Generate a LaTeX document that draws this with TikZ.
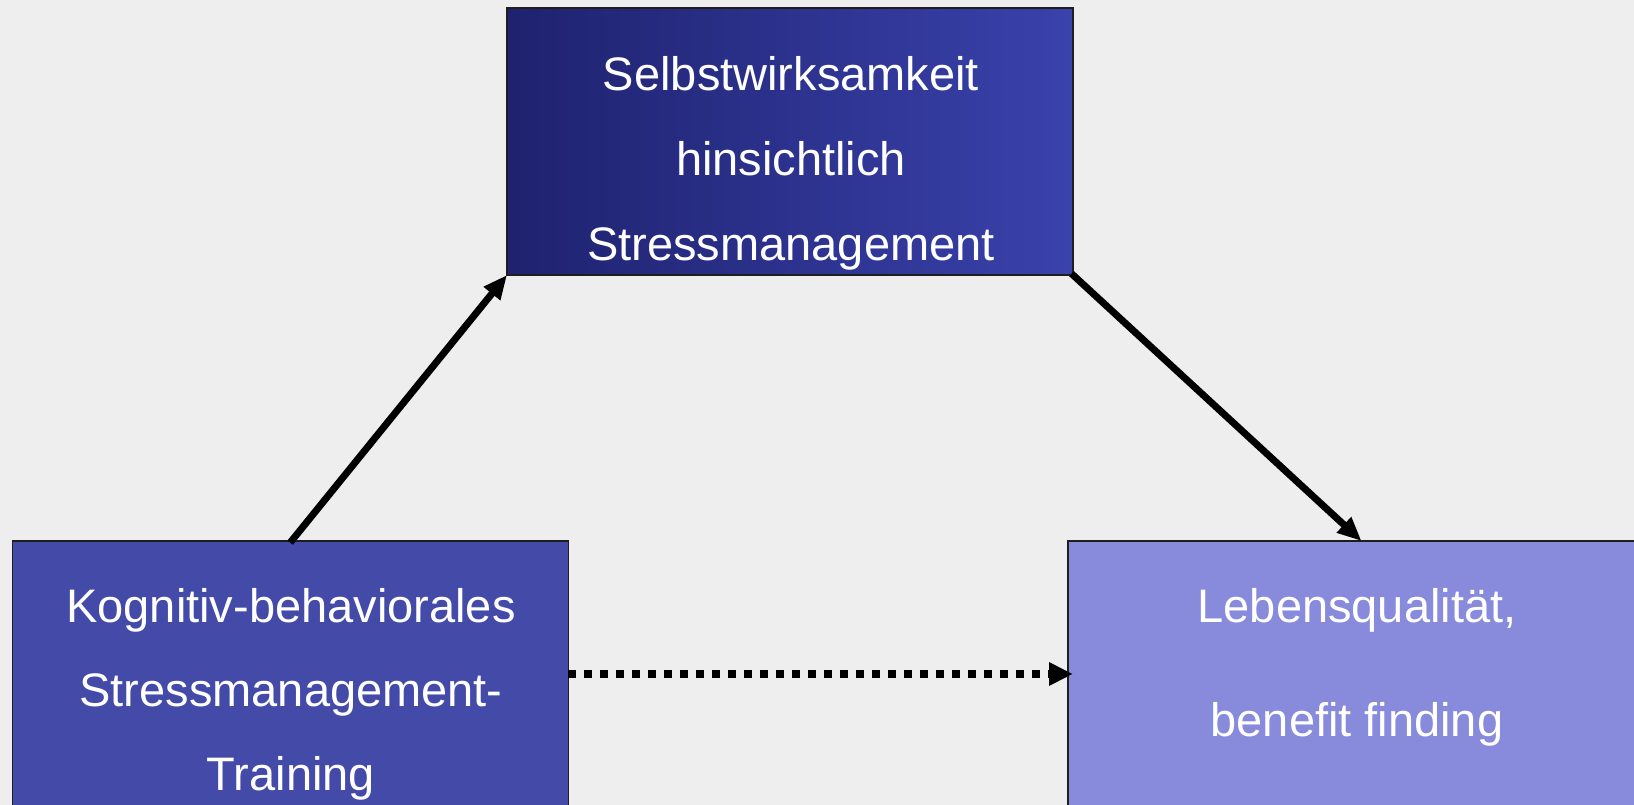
\documentclass[tikz,border=0pt]{standalone}
\usepackage{fontspec}
\setmainfont{Liberation Sans}
\usetikzlibrary{arrows.meta}
\definecolor{bg}{RGB}{238,238,238}
\definecolor{topL}{RGB}{30,34,110}
\definecolor{topR}{RGB}{58,66,172}
\definecolor{leftC}{RGB}{67,74,168}
\definecolor{rightC}{RGB}{136,139,219}
\definecolor{edge}{RGB}{30,30,30}
\tikzset{
  box/.style={draw=edge, line width=1.3bp, inner sep=0pt, outer sep=0pt, anchor=north west},
  txt/.style={text=white, font=\fontsize{47bp}{56bp}\selectfont, anchor=base, inner sep=0pt},
  conn/.style={line width=7bp, -{Triangle[length=24bp,width=20bp]}},
  dotconn/.style={line width=7.5bp, dash pattern=on 7.5bp off 8.5bp, -{Triangle[length=24bp,width=22bp]}}
}
\begin{document}
\begin{tikzpicture}[x=1bp,y=-1bp]
\fill[bg] (0,0) rectangle (1634,805);
\useasboundingbox (0,0) rectangle (1634,805);
% boxes
\node[box, left color=topL, right color=topR, minimum width=566bp, minimum height=267bp] (top) at (507,8) {};
\node[box, fill=leftC, minimum width=556bp, minimum height=280bp] (lft) at (12.5,541) {};
\node[box, fill=rightC, minimum width=580bp, minimum height=280bp] (rgt) at (1068,541) {};
% texts
\node[txt] (t1) at (791,90.7) {Selbstwirksamkeit};
\node[txt] (t2) at (791,175.5) {hinsichtlich};
\node[txt] (t3) at (791,260.7) {Stressmanagement};
\node[txt] (l1) at (291,622.7) {Kognitiv-behaviorales};
\node[txt] (l2) at (291,706.7) {Stressmanagement-};
\node[txt] (l3) at (291,790.7) {Training};
\node[txt] (r1) at (1357,622.7) {Lebensqualität,};
\node[txt] (r2) at (1357,736) {benefit finding};
% connectors
\coordinate (a1s) at (291.5,541);
\draw[conn, shorten <=-2bp] (a1s) -- (top.south west);
\coordinate (a2e) at (1361.5,541);
\draw[conn, shorten <=-2bp] (top.south east) -- (a2e);
\coordinate (d1s) at (568,674);
\coordinate (d1e) at (1073,674);
\draw[dotconn] (d1s) -- (d1e);
\end{tikzpicture}
\end{document}
